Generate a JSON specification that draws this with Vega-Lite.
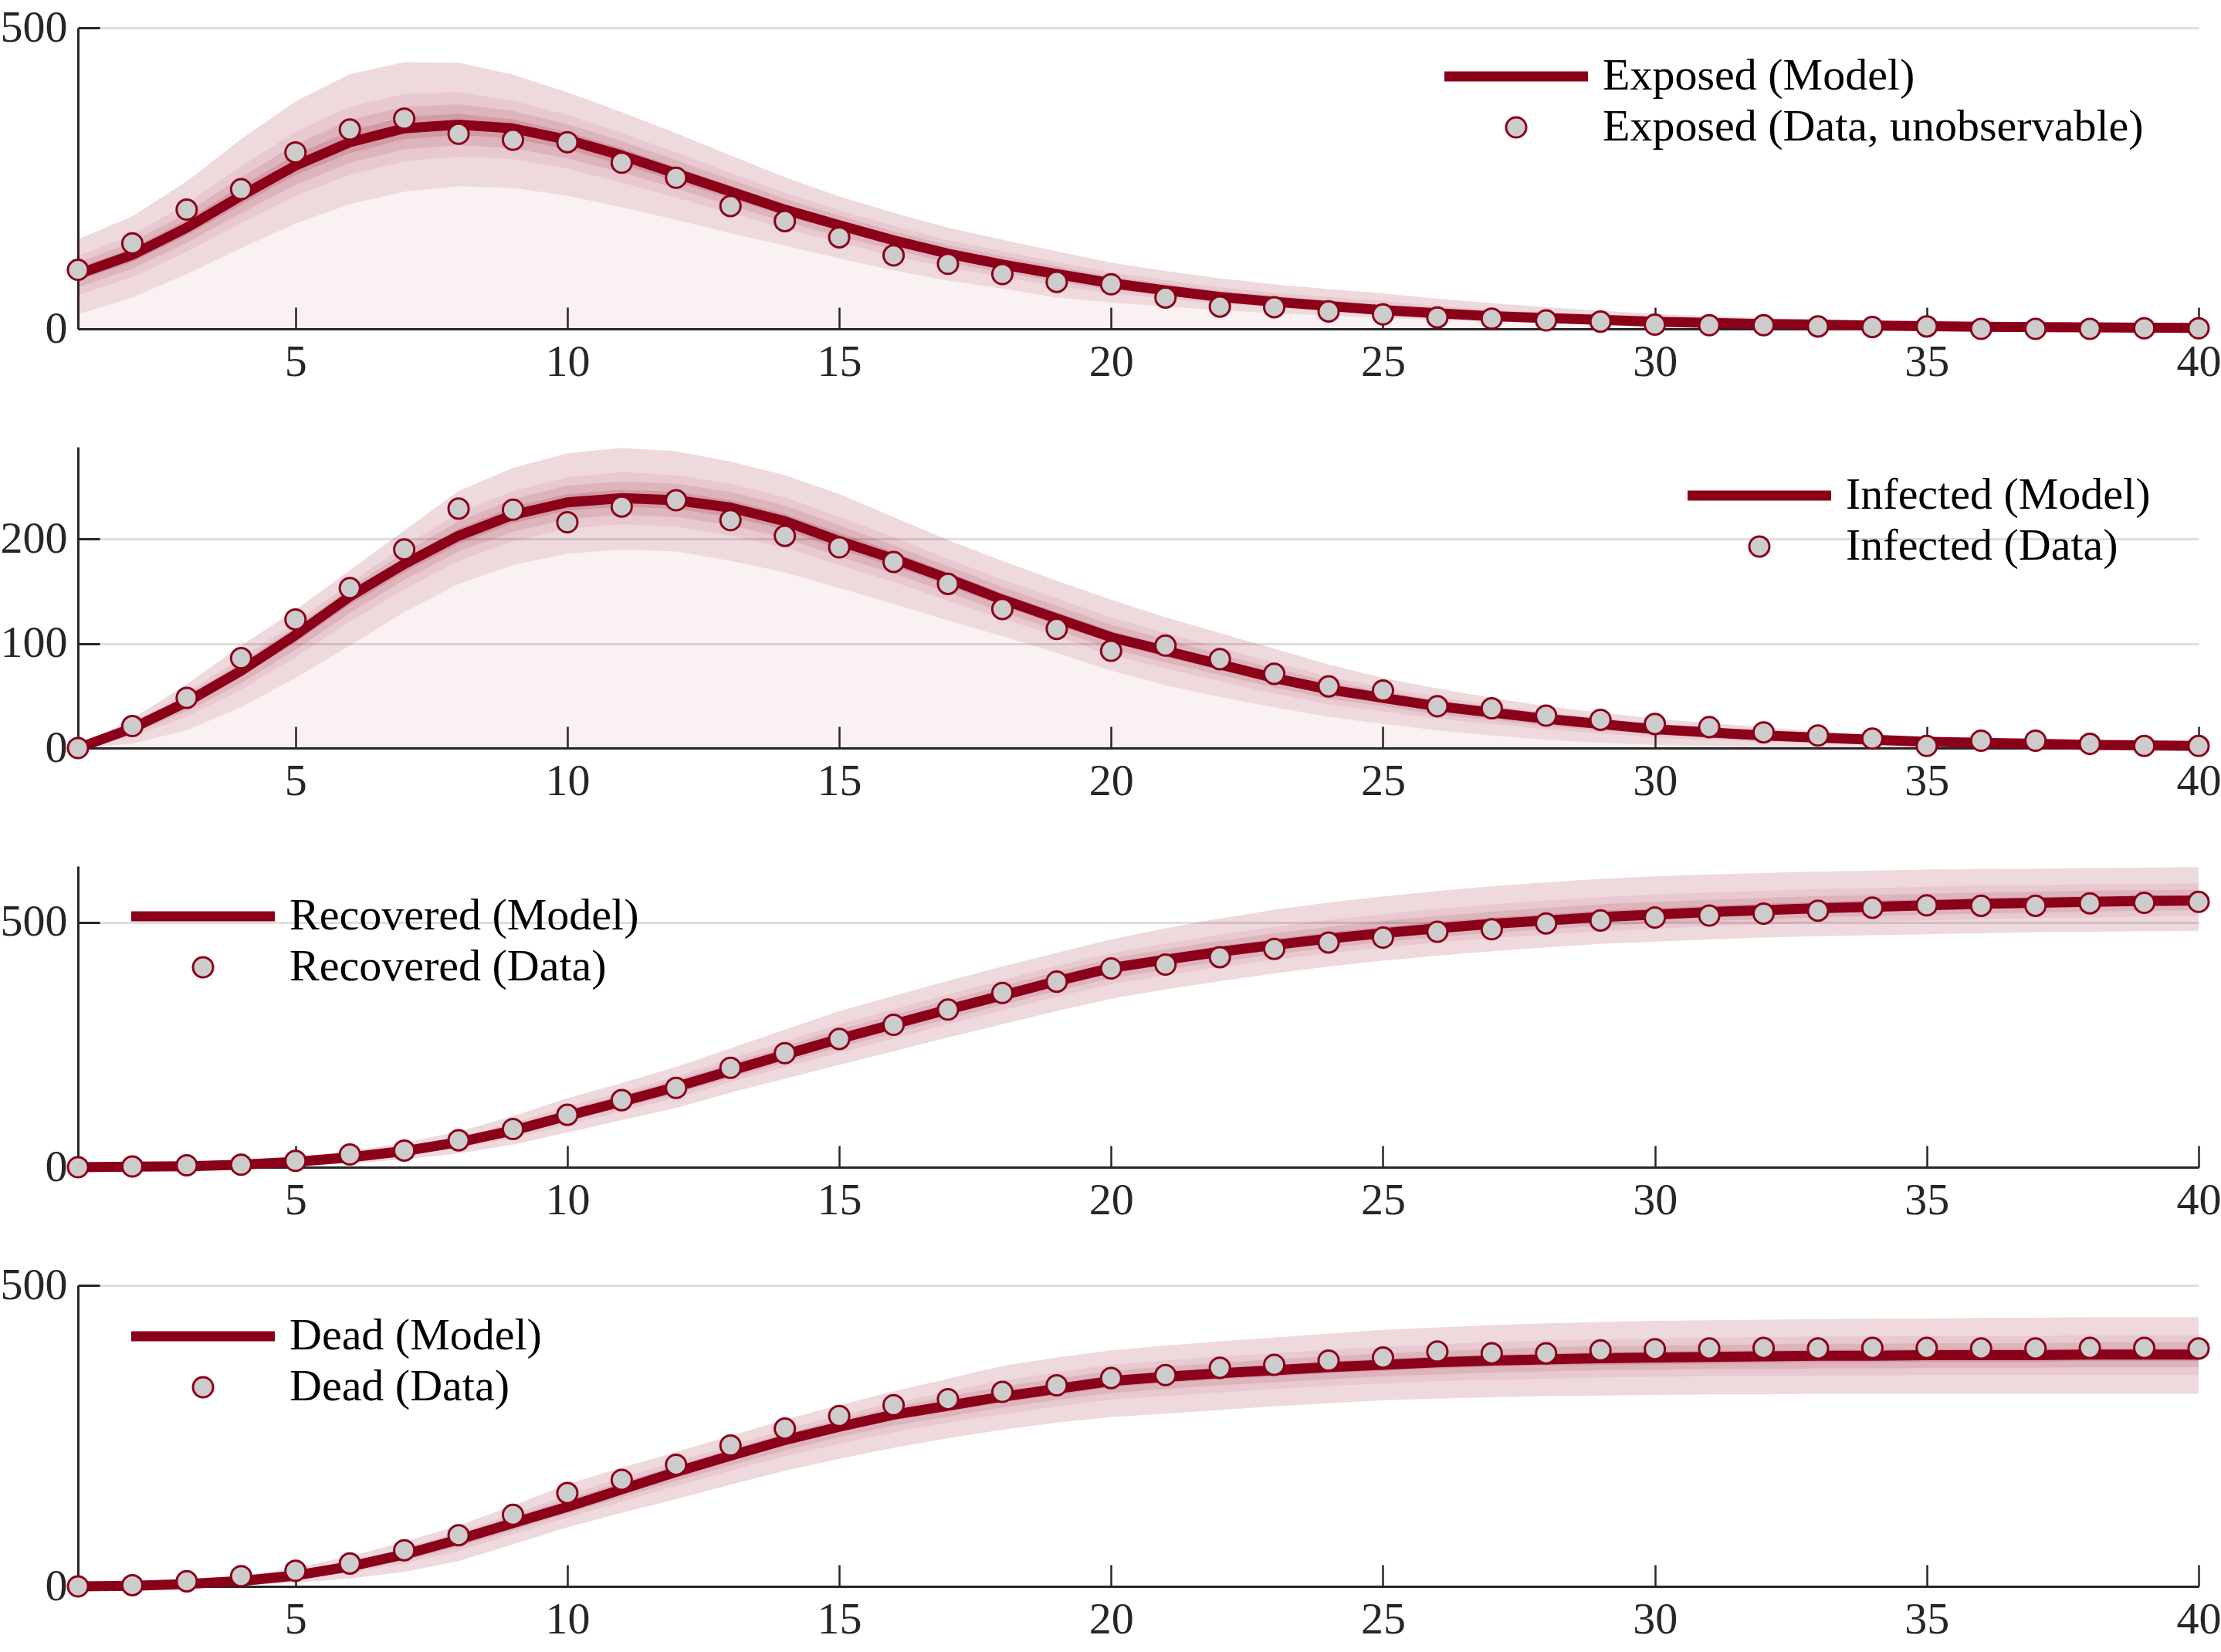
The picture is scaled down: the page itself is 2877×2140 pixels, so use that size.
{
  "$schema": "https://vega.github.io/schema/vega-lite/v6.json",
  "description": "SEIRD model fit: exposed, infected, recovered and dead, model with quantile bands and data",
  "background": "white",
  "padding": {"left": 0, "top": 7, "right": 0, "bottom": 5},
  "bounds": "flush",
  "spacing": 153,
  "data": {
    "values": [
      {"p":"E","t":1,"m":91,"d":98,"l1":24,"h1":149,"l2":56,"h2":121,"l3":69,"h3":110,"l4":80,"h4":101},
      {"p":"E","t":2,"m":123,"d":142,"l1":52,"h1":187,"l2":86,"h2":156,"l3":100,"h3":144,"l4":111,"h4":134},
      {"p":"E","t":3,"m":168,"d":198,"l1":91,"h1":245,"l2":128,"h2":208,"l3":143,"h3":193,"l4":155,"h4":181},
      {"p":"E","t":4,"m":221,"d":232,"l1":134,"h1":315,"l2":176,"h2":270,"l3":192,"h3":252,"l4":206,"h4":237},
      {"p":"E","t":5,"m":271,"d":293,"l1":175,"h1":378,"l2":221,"h2":327,"l3":239,"h3":306,"l4":255,"h4":289},
      {"p":"E","t":6,"m":310,"d":331,"l1":207,"h1":423,"l2":256,"h2":369,"l3":276,"h3":347,"l4":292,"h4":329},
      {"p":"E","t":7,"m":333,"d":349,"l1":228,"h1":443,"l2":278,"h2":390,"l3":298,"h3":369,"l4":315,"h4":352},
      {"p":"E","t":8,"m":339,"d":324,"l1":237,"h1":442,"l2":286,"h2":393,"l3":305,"h3":373,"l4":322,"h4":357},
      {"p":"E","t":9,"m":333,"d":314,"l1":234,"h1":422,"l2":282,"h2":379,"l3":300,"h3":362,"l4":316,"h4":348},
      {"p":"E","t":10,"m":314,"d":310,"l1":221,"h1":393,"l2":266,"h2":355,"l3":283,"h3":340,"l4":298,"h4":327},
      {"p":"E","t":11,"m":288,"d":276,"l1":202,"h1":360,"l2":243,"h2":325,"l3":260,"h3":312,"l4":273,"h4":300},
      {"p":"E","t":12,"m":258,"d":251,"l1":181,"h1":325,"l2":218,"h2":293,"l3":233,"h3":280,"l4":245,"h4":269},
      {"p":"E","t":13,"m":228,"d":204,"l1":159,"h1":288,"l2":192,"h2":259,"l3":205,"h3":248,"l4":216,"h4":238},
      {"p":"E","t":14,"m":198,"d":179,"l1":138,"h1":252,"l2":167,"h2":226,"l3":178,"h3":216,"l4":188,"h4":207},
      {"p":"E","t":15,"m":172,"d":152,"l1":117,"h1":220,"l2":143,"h2":197,"l3":154,"h3":188,"l4":163,"h4":180},
      {"p":"E","t":16,"m":147,"d":122,"l1":97,"h1":193,"l2":121,"h2":171,"l3":131,"h3":162,"l4":139,"h4":155},
      {"p":"E","t":17,"m":125,"d":108,"l1":80,"h1":168,"l2":102,"h2":147,"l3":110,"h3":139,"l4":117,"h4":132},
      {"p":"E","t":18,"m":107,"d":91,"l1":67,"h1":148,"l2":86,"h2":129,"l3":94,"h3":121,"l4":100,"h4":114},
      {"p":"E","t":19,"m":91,"d":78,"l1":52,"h1":129,"l2":71,"h2":111,"l3":78,"h3":104,"l4":84,"h4":97},
      {"p":"E","t":20,"m":76,"d":74,"l1":44,"h1":110,"l2":59,"h2":94,"l3":65,"h3":87,"l4":71,"h4":82},
      {"p":"E","t":21,"m":64,"d":52,"l1":37,"h1":96,"l2":50,"h2":81,"l3":55,"h3":75,"l4":59,"h4":69},
      {"p":"E","t":22,"m":53,"d":37,"l1":31,"h1":84,"l2":42,"h2":69,"l3":46,"h3":63,"l4":49,"h4":58},
      {"p":"E","t":23,"m":45,"d":36,"l1":26,"h1":74,"l2":35,"h2":60,"l3":39,"h3":55,"l4":42,"h4":50},
      {"p":"E","t":24,"m":38,"d":29,"l1":22,"h1":66,"l2":30,"h2":53,"l3":33,"h3":47,"l4":35,"h4":43},
      {"p":"E","t":25,"m":31,"d":24,"l1":18,"h1":59,"l2":24,"h2":46,"l3":27,"h3":40,"l4":29,"h4":36},
      {"p":"E","t":26,"m":26,"d":19,"l1":15,"h1":50,"l2":20,"h2":38,"l3":22,"h3":34,"l4":24,"h4":30},
      {"p":"E","t":27,"m":21,"d":17,"l1":12,"h1":43,"l2":16,"h2":32,"l3":18,"h3":28,"l4":19,"h4":25},
      {"p":"E","t":28,"m":18,"d":14,"l1":10,"h1":36,"l2":14,"h2":27,"l3":15,"h3":24,"l4":17,"h4":21},
      {"p":"E","t":29,"m":15,"d":12,"l1":8,"h1":30,"l2":11,"h2":23,"l3":13,"h3":20,"l4":14,"h4":18},
      {"p":"E","t":30,"m":12,"d":7,"l1":6,"h1":25,"l2":9,"h2":19,"l3":10,"h3":16,"l4":11,"h4":14},
      {"p":"E","t":31,"m":10,"d":6,"l1":5,"h1":21,"l2":7,"h2":16,"l3":8,"h3":14,"l4":9,"h4":12},
      {"p":"E","t":32,"m":8,"d":6,"l1":4,"h1":18,"l2":6,"h2":13,"l3":7,"h3":11,"l4":7,"h4":10},
      {"p":"E","t":33,"m":7,"d":4,"l1":3,"h1":16,"l2":5,"h2":12,"l3":6,"h3":10,"l4":6,"h4":8},
      {"p":"E","t":34,"m":5.5,"d":3,"l1":2,"h1":14,"l2":4,"h2":10,"l3":4,"h3":8,"l4":5,"h4":7},
      {"p":"E","t":35,"m":4.5,"d":4,"l1":2,"h1":12,"l2":3,"h2":8,"l3":4,"h3":7,"l4":4,"h4":6},
      {"p":"E","t":36,"m":3.5,"d":0,"l1":1,"h1":10,"l2":2,"h2":7,"l3":3,"h3":6,"l4":3,"h4":5},
      {"p":"E","t":37,"m":3,"d":0,"l1":1,"h1":8,"l2":2,"h2":6,"l3":2,"h3":5,"l4":3,"h4":4},
      {"p":"E","t":38,"m":2.5,"d":0,"l1":1,"h1":7,"l2":2,"h2":5,"l3":2,"h3":4,"l4":2,"h4":3},
      {"p":"E","t":39,"m":2,"d":1,"l1":0,"h1":6,"l2":1,"h2":4,"l3":1,"h3":3,"l4":2,"h4":3},
      {"p":"E","t":40,"m":1.5,"d":1,"l1":0,"h1":5,"l2":1,"h2":3,"l3":1,"h3":3,"l4":1,"h4":2},

      {"p":"I","t":1,"m":0,"d":0,"l1":0,"h1":0,"l2":0,"h2":0,"l3":0,"h3":0,"l4":0,"h4":0},
      {"p":"I","t":2,"m":19,"d":21,"l1":4,"h1":28,"l2":11,"h2":24,"l3":14,"h3":22,"l4":16,"h4":21},
      {"p":"I","t":3,"m":44,"d":48,"l1":17,"h1":61,"l2":30,"h2":53,"l3":35,"h3":50,"l4":39,"h4":47},
      {"p":"I","t":4,"m":74,"d":86,"l1":39,"h1":98,"l2":56,"h2":86,"l3":62,"h3":82,"l4":68,"h4":78},
      {"p":"I","t":5,"m":108,"d":123,"l1":67,"h1":132,"l2":87,"h2":120,"l3":94,"h3":116,"l4":101,"h4":112},
      {"p":"I","t":6,"m":145,"d":153,"l1":98,"h1":170,"l2":121,"h2":158,"l3":129,"h3":153,"l4":137,"h4":149},
      {"p":"I","t":7,"m":176,"d":190,"l1":130,"h1":208,"l2":152,"h2":193,"l3":161,"h3":187,"l4":168,"h4":181},
      {"p":"I","t":8,"m":203,"d":229,"l1":157,"h1":246,"l2":179,"h2":225,"l3":188,"h3":217,"l4":195,"h4":210},
      {"p":"I","t":9,"m":223,"d":228,"l1":175,"h1":268,"l2":198,"h2":246,"l3":207,"h3":238,"l4":215,"h4":231},
      {"p":"I","t":10,"m":235,"d":216,"l1":186,"h1":282,"l2":210,"h2":259,"l3":219,"h3":251,"l4":227,"h4":243},
      {"p":"I","t":11,"m":239,"d":231,"l1":190,"h1":287,"l2":214,"h2":264,"l3":223,"h3":255,"l4":231,"h4":247},
      {"p":"I","t":12,"m":237,"d":237,"l1":188,"h1":284,"l2":212,"h2":261,"l3":221,"h3":253,"l4":229,"h4":245},
      {"p":"I","t":13,"m":230,"d":218,"l1":179,"h1":274,"l2":203,"h2":253,"l3":213,"h3":245,"l4":221,"h4":237},
      {"p":"I","t":14,"m":217,"d":203,"l1":168,"h1":261,"l2":192,"h2":240,"l3":201,"h3":232,"l4":209,"h4":224},
      {"p":"I","t":15,"m":198,"d":192,"l1":153,"h1":243,"l2":175,"h2":221,"l3":183,"h3":213,"l4":190,"h4":206},
      {"p":"I","t":16,"m":181,"d":178,"l1":138,"h1":221,"l2":159,"h2":202,"l3":167,"h3":194,"l4":174,"h4":188},
      {"p":"I","t":17,"m":162,"d":157,"l1":122,"h1":199,"l2":141,"h2":181,"l3":149,"h3":174,"l4":155,"h4":168},
      {"p":"I","t":18,"m":142,"d":133,"l1":107,"h1":179,"l2":124,"h2":161,"l3":130,"h3":154,"l4":136,"h4":148},
      {"p":"I","t":19,"m":124,"d":114,"l1":91,"h1":160,"l2":107,"h2":143,"l3":113,"h3":136,"l4":118,"h4":130},
      {"p":"I","t":20,"m":106,"d":93,"l1":74,"h1":142,"l2":89,"h2":125,"l3":95,"h3":118,"l4":101,"h4":112},
      {"p":"I","t":21,"m":93,"d":98,"l1":60,"h1":125,"l2":76,"h2":110,"l3":82,"h3":104,"l4":87,"h4":98},
      {"p":"I","t":22,"m":80,"d":85,"l1":49,"h1":110,"l2":64,"h2":96,"l3":70,"h3":90,"l4":75,"h4":85},
      {"p":"I","t":23,"m":67,"d":71,"l1":39,"h1":95,"l2":52,"h2":82,"l3":58,"h3":76,"l4":62,"h4":72},
      {"p":"I","t":24,"m":56,"d":59,"l1":30,"h1":80,"l2":42,"h2":68,"l3":47,"h3":64,"l4":52,"h4":60},
      {"p":"I","t":25,"m":48,"d":55,"l1":23,"h1":67,"l2":35,"h2":58,"l3":40,"h3":54,"l4":44,"h4":51},
      {"p":"I","t":26,"m":40,"d":40,"l1":17,"h1":57,"l2":28,"h2":49,"l3":32,"h3":46,"l4":36,"h4":43},
      {"p":"I","t":27,"m":34,"d":38,"l1":12,"h1":48,"l2":23,"h2":41,"l3":27,"h3":39,"l4":30,"h4":36},
      {"p":"I","t":28,"m":28,"d":31,"l1":8,"h1":40,"l2":18,"h2":34,"l3":21,"h3":32,"l4":25,"h4":30},
      {"p":"I","t":29,"m":23,"d":27,"l1":5,"h1":34,"l2":14,"h2":29,"l3":17,"h3":27,"l4":20,"h4":25},
      {"p":"I","t":30,"m":18,"d":23,"l1":3,"h1":28,"l2":10,"h2":23,"l3":13,"h3":21,"l4":15,"h4":20},
      {"p":"I","t":31,"m":15,"d":20,"l1":2,"h1":24,"l2":8,"h2":20,"l3":11,"h3":18,"l4":13,"h4":17},
      {"p":"I","t":32,"m":12,"d":15,"l1":1,"h1":20,"l2":6,"h2":16,"l3":8,"h3":15,"l4":10,"h4":13},
      {"p":"I","t":33,"m":10,"d":12,"l1":1,"h1":16,"l2":5,"h2":13,"l3":7,"h3":12,"l4":8,"h4":11},
      {"p":"I","t":34,"m":8,"d":9,"l1":1,"h1":13,"l2":4,"h2":11,"l3":6,"h3":10,"l4":7,"h4":9},
      {"p":"I","t":35,"m":6,"d":2,"l1":0,"h1":11,"l2":3,"h2":9,"l3":4,"h3":8,"l4":5,"h4":7},
      {"p":"I","t":36,"m":5,"d":7,"l1":0,"h1":10,"l2":2,"h2":8,"l3":3,"h3":7,"l4":4,"h4":6},
      {"p":"I","t":37,"m":4,"d":7,"l1":0,"h1":9,"l2":2,"h2":7,"l3":3,"h3":6,"l4":3,"h4":5},
      {"p":"I","t":38,"m":3,"d":4,"l1":0,"h1":8,"l2":2,"h2":6,"l3":2,"h3":5,"l4":3,"h4":4},
      {"p":"I","t":39,"m":2.5,"d":2,"l1":0,"h1":7,"l2":1,"h2":5,"l3":2,"h3":4,"l4":2,"h4":3},
      {"p":"I","t":40,"m":2,"d":2,"l1":0,"h1":6,"l2":1,"h2":4,"l3":1,"h3":3,"l4":2,"h4":3},

      {"p":"R","t":1,"m":0,"d":0,"l1":0,"h1":0,"l2":0,"h2":0,"l3":0,"h3":0,"l4":0,"h4":0},
      {"p":"R","t":2,"m":1,"d":1.5,"l1":0,"h1":3,"l2":0.5,"h2":2,"l3":0.7,"h3":1.7,"l4":0.8,"h4":1.3},
      {"p":"R","t":3,"m":2,"d":4,"l1":0,"h1":6,"l2":1,"h2":4,"l3":1.3,"h3":3.3,"l4":1.7,"h4":2.7},
      {"p":"R","t":4,"m":5,"d":5,"l1":0,"h1":11,"l2":2.4,"h2":8,"l3":3.3,"h3":7,"l4":4.2,"h4":6},
      {"p":"R","t":5,"m":11,"d":13,"l1":3,"h1":20,"l2":7,"h2":16,"l3":8,"h3":14,"l4":10,"h4":13},
      {"p":"R","t":6,"m":20,"d":26,"l1":8,"h1":33,"l2":14,"h2":27,"l3":16,"h3":24,"l4":18,"h4":22},
      {"p":"R","t":7,"m":33,"d":34,"l1":16,"h1":50,"l2":24,"h2":42,"l3":27,"h3":39,"l4":30,"h4":36},
      {"p":"R","t":8,"m":51,"d":55,"l1":28,"h1":73,"l2":39,"h2":62,"l3":43,"h3":58,"l4":47,"h4":55},
      {"p":"R","t":9,"m":75,"d":78,"l1":46,"h1":104,"l2":60,"h2":90,"l3":65,"h3":85,"l4":70,"h4":80},
      {"p":"R","t":10,"m":105,"d":107,"l1":71,"h1":141,"l2":87,"h2":124,"l3":94,"h3":117,"l4":99,"h4":111},
      {"p":"R","t":11,"m":134,"d":137,"l1":96,"h1":172,"l2":114,"h2":154,"l3":121,"h3":147,"l4":128,"h4":140},
      {"p":"R","t":12,"m":164,"d":162,"l1":121,"h1":205,"l2":142,"h2":185,"l3":150,"h3":178,"l4":157,"h4":171},
      {"p":"R","t":13,"m":197,"d":203,"l1":152,"h1":243,"l2":174,"h2":221,"l3":182,"h3":212,"l4":189,"h4":205},
      {"p":"R","t":14,"m":230,"d":233,"l1":181,"h1":281,"l2":205,"h2":257,"l3":214,"h3":247,"l4":222,"h4":239},
      {"p":"R","t":15,"m":262,"d":262,"l1":209,"h1":319,"l2":234,"h2":292,"l3":245,"h3":281,"l4":253,"h4":272},
      {"p":"R","t":16,"m":292,"d":291,"l1":237,"h1":350,"l2":263,"h2":322,"l3":274,"h3":311,"l4":283,"h4":302},
      {"p":"R","t":17,"m":322,"d":322,"l1":265,"h1":381,"l2":292,"h2":353,"l3":303,"h3":341,"l4":312,"h4":332},
      {"p":"R","t":18,"m":351,"d":356,"l1":292,"h1":410,"l2":320,"h2":382,"l3":332,"h3":370,"l4":341,"h4":361},
      {"p":"R","t":19,"m":380,"d":379,"l1":319,"h1":438,"l2":348,"h2":411,"l3":360,"h3":399,"l4":370,"h4":390},
      {"p":"R","t":20,"m":407,"d":406,"l1":344,"h1":465,"l2":374,"h2":437,"l3":386,"h3":426,"l4":396,"h4":417},
      {"p":"R","t":21,"m":424,"d":414,"l1":363,"h1":488,"l2":392,"h2":457,"l3":404,"h3":445,"l4":414,"h4":435},
      {"p":"R","t":22,"m":440,"d":429,"l1":380,"h1":508,"l2":409,"h2":475,"l3":420,"h3":462,"l4":430,"h4":452},
      {"p":"R","t":23,"m":454,"d":446,"l1":396,"h1":526,"l2":424,"h2":491,"l3":435,"h3":478,"l4":444,"h4":466},
      {"p":"R","t":24,"m":467,"d":459,"l1":410,"h1":541,"l2":437,"h2":505,"l3":448,"h3":491,"l4":457,"h4":480},
      {"p":"R","t":25,"m":478,"d":469,"l1":422,"h1":553,"l2":449,"h2":517,"l3":460,"h3":503,"l4":468,"h4":491},
      {"p":"R","t":26,"m":488,"d":481,"l1":432,"h1":564,"l2":459,"h2":528,"l3":470,"h3":513,"l4":478,"h4":501},
      {"p":"R","t":27,"m":497,"d":486,"l1":441,"h1":574,"l2":468,"h2":537,"l3":479,"h3":522,"l4":487,"h4":510},
      {"p":"R","t":28,"m":504,"d":498,"l1":449,"h1":582,"l2":475,"h2":545,"l3":486,"h3":530,"l4":495,"h4":517},
      {"p":"R","t":29,"m":511,"d":504,"l1":456,"h1":589,"l2":482,"h2":552,"l3":493,"h3":537,"l4":502,"h4":524},
      {"p":"R","t":30,"m":516,"d":510,"l1":461,"h1":594,"l2":487,"h2":557,"l3":498,"h3":542,"l4":507,"h4":529},
      {"p":"R","t":31,"m":521,"d":514,"l1":465,"h1":598,"l2":492,"h2":561,"l3":503,"h3":546,"l4":511,"h4":534},
      {"p":"R","t":32,"m":525,"d":518,"l1":469,"h1":601,"l2":496,"h2":565,"l3":507,"h3":550,"l4":515,"h4":538},
      {"p":"R","t":33,"m":529,"d":524,"l1":472,"h1":604,"l2":499,"h2":568,"l3":510,"h3":554,"l4":519,"h4":542},
      {"p":"R","t":34,"m":532,"d":530,"l1":474,"h1":606,"l2":502,"h2":570,"l3":513,"h3":556,"l4":522,"h4":545},
      {"p":"R","t":35,"m":535,"d":535,"l1":476,"h1":608,"l2":504,"h2":573,"l3":516,"h3":559,"l4":525,"h4":547},
      {"p":"R","t":36,"m":538,"d":534,"l1":478,"h1":609,"l2":507,"h2":575,"l3":518,"h3":561,"l4":528,"h4":550},
      {"p":"R","t":37,"m":540,"d":534,"l1":480,"h1":610,"l2":509,"h2":576,"l3":520,"h3":563,"l4":530,"h4":552},
      {"p":"R","t":38,"m":542,"d":539,"l1":481,"h1":611,"l2":510,"h2":578,"l3":522,"h3":565,"l4":532,"h4":554},
      {"p":"R","t":39,"m":544,"d":540,"l1":482,"h1":612,"l2":512,"h2":579,"l3":524,"h3":566,"l4":533,"h4":555},
      {"p":"R","t":40,"m":545,"d":542,"l1":483,"h1":613,"l2":513,"h2":580,"l3":525,"h3":567,"l4":534,"h4":556},

      {"p":"D","t":1,"m":0,"d":0,"l1":0,"h1":0,"l2":0,"h2":0,"l3":0,"h3":0,"l4":0,"h4":0},
      {"p":"D","t":2,"m":1,"d":2,"l1":0,"h1":3,"l2":0.5,"h2":2,"l3":0.7,"h3":1.7,"l4":0.8,"h4":1.3},
      {"p":"D","t":3,"m":4,"d":8.5,"l1":0,"h1":8,"l2":2,"h2":6,"l3":2.7,"h3":5.3,"l4":3.3,"h4":4.7},
      {"p":"D","t":4,"m":9,"d":17,"l1":2,"h1":17,"l2":5,"h2":13,"l3":7,"h3":12,"l4":8,"h4":10},
      {"p":"D","t":5,"m":18,"d":26,"l1":6,"h1":31,"l2":12,"h2":25,"l3":14,"h3":22,"l4":16,"h4":20},
      {"p":"D","t":6,"m":33,"d":38,"l1":13,"h1":50,"l2":23,"h2":42,"l3":26,"h3":39,"l4":30,"h4":36},
      {"p":"D","t":7,"m":53,"d":60,"l1":24,"h1":74,"l2":38,"h2":64,"l3":43,"h3":60,"l4":48,"h4":57},
      {"p":"D","t":8,"m":78,"d":85,"l1":42,"h1":101,"l2":59,"h2":90,"l3":66,"h3":86,"l4":72,"h4":82},
      {"p":"D","t":9,"m":105,"d":119,"l1":70,"h1":134,"l2":87,"h2":120,"l3":93,"h3":115,"l4":99,"h4":110},
      {"p":"D","t":10,"m":132,"d":155,"l1":98,"h1":170,"l2":114,"h2":152,"l3":121,"h3":145,"l4":126,"h4":138},
      {"p":"D","t":11,"m":161,"d":177,"l1":122,"h1":197,"l2":141,"h2":180,"l3":148,"h3":173,"l4":154,"h4":167},
      {"p":"D","t":12,"m":190,"d":202,"l1":145,"h1":223,"l2":167,"h2":207,"l3":175,"h3":201,"l4":182,"h4":196},
      {"p":"D","t":13,"m":217,"d":234,"l1":169,"h1":250,"l2":192,"h2":234,"l3":201,"h3":228,"l4":209,"h4":223},
      {"p":"D","t":14,"m":243,"d":262,"l1":192,"h1":277,"l2":216,"h2":261,"l3":226,"h3":254,"l4":234,"h4":249},
      {"p":"D","t":15,"m":265,"d":283,"l1":212,"h1":301,"l2":237,"h2":284,"l3":248,"h3":277,"l4":256,"h4":271},
      {"p":"D","t":16,"m":285,"d":301,"l1":230,"h1":324,"l2":256,"h2":305,"l3":267,"h3":298,"l4":276,"h4":292},
      {"p":"D","t":17,"m":300,"d":311,"l1":246,"h1":345,"l2":272,"h2":323,"l3":282,"h3":315,"l4":291,"h4":308},
      {"p":"D","t":18,"m":315,"d":323,"l1":260,"h1":366,"l2":286,"h2":342,"l3":297,"h3":332,"l4":306,"h4":324},
      {"p":"D","t":19,"m":328,"d":334,"l1":272,"h1":380,"l2":299,"h2":355,"l3":310,"h3":345,"l4":318,"h4":337},
      {"p":"D","t":20,"m":341,"d":346,"l1":281,"h1":392,"l2":310,"h2":368,"l3":321,"h3":358,"l4":331,"h4":350},
      {"p":"D","t":21,"m":348,"d":351,"l1":287,"h1":400,"l2":316,"h2":375,"l3":328,"h3":365,"l4":338,"h4":357},
      {"p":"D","t":22,"m":354,"d":363,"l1":293,"h1":407,"l2":322,"h2":382,"l3":334,"h3":371,"l4":344,"h4":363},
      {"p":"D","t":23,"m":359,"d":368,"l1":299,"h1":413,"l2":328,"h2":387,"l3":339,"h3":377,"l4":349,"h4":368},
      {"p":"D","t":24,"m":364,"d":375,"l1":304,"h1":420,"l2":333,"h2":393,"l3":344,"h3":382,"l4":354,"h4":374},
      {"p":"D","t":25,"m":368,"d":380,"l1":309,"h1":426,"l2":337,"h2":398,"l3":349,"h3":387,"l4":358,"h4":378},
      {"p":"D","t":26,"m":372,"d":390,"l1":312,"h1":430,"l2":341,"h2":402,"l3":352,"h3":391,"l4":362,"h4":382},
      {"p":"D","t":27,"m":375,"d":387,"l1":314,"h1":434,"l2":343,"h2":406,"l3":355,"h3":394,"l4":365,"h4":385},
      {"p":"D","t":28,"m":377,"d":387,"l1":316,"h1":437,"l2":345,"h2":408,"l3":357,"h3":397,"l4":367,"h4":387},
      {"p":"D","t":29,"m":379,"d":392,"l1":317,"h1":439,"l2":347,"h2":410,"l3":359,"h3":399,"l4":368,"h4":389},
      {"p":"D","t":30,"m":380,"d":394,"l1":318,"h1":441,"l2":348,"h2":412,"l3":360,"h3":400,"l4":369,"h4":390},
      {"p":"D","t":31,"m":381,"d":395,"l1":319,"h1":442,"l2":349,"h2":413,"l3":361,"h3":401,"l4":370,"h4":391},
      {"p":"D","t":32,"m":382,"d":396,"l1":319,"h1":443,"l2":349,"h2":414,"l3":361,"h3":402,"l4":371,"h4":392},
      {"p":"D","t":33,"m":383,"d":395,"l1":320,"h1":444,"l2":350,"h2":415,"l3":362,"h3":403,"l4":372,"h4":393},
      {"p":"D","t":34,"m":383,"d":396,"l1":320,"h1":445,"l2":350,"h2":415,"l3":362,"h3":403,"l4":372,"h4":394},
      {"p":"D","t":35,"m":384,"d":396,"l1":320,"h1":445,"l2":351,"h2":416,"l3":363,"h3":404,"l4":373,"h4":394},
      {"p":"D","t":36,"m":384,"d":395,"l1":320,"h1":446,"l2":351,"h2":416,"l3":363,"h3":404,"l4":373,"h4":395},
      {"p":"D","t":37,"m":384,"d":395,"l1":320,"h1":446,"l2":351,"h2":416,"l3":363,"h3":404,"l4":373,"h4":395},
      {"p":"D","t":38,"m":385,"d":396,"l1":320,"h1":447,"l2":351,"h2":417,"l3":364,"h3":405,"l4":374,"h4":395},
      {"p":"D","t":39,"m":385,"d":396,"l1":320,"h1":447,"l2":351,"h2":417,"l3":364,"h3":405,"l4":374,"h4":395},
      {"p":"D","t":40,"m":385,"d":395,"l1":320,"h1":447,"l2":351,"h2":417,"l3":364,"h3":405,"l4":374,"h4":395}
    ]
  },
  "resolve": {
    "scale": {"x": "independent", "y": "independent", "stroke": "independent"},
    "legend": {"stroke": "independent"}
  },
  "vconcat": [
    {
      "width": 2747,
      "height": 390,
      "transform": [{"filter": "datum.p == 'E'"}],
      "encoding": {
        "x": {"field": "t", "type": "quantitative", "title": null, "scale": {"domain": [1, 40], "nice": false}, "axis": {"values": [5, 10, 15, 20, 25, 30, 35, 40]}}
      },
      "layer": [
        {"mark": {"type": "area", "color": "#8b0019", "opacity": 0.055}, "encoding": {"y": {"field": "l1", "type": "quantitative", "title": null, "scale": {"domain": [0, 500], "nice": false}, "axis": {"values": [0, 500]}}, "y2": {"datum": 0}}},
        {"mark": {"type": "area", "color": "#8b0019", "opacity": 0.15}, "encoding": {"y": {"field": "l1", "type": "quantitative", "title": null}, "y2": {"field": "h1"}}},
        {"mark": {"type": "area", "color": "#8b0019", "opacity": 0.07}, "encoding": {"y": {"field": "l2", "type": "quantitative", "title": null}, "y2": {"field": "h2"}}},
        {"mark": {"type": "area", "color": "#8b0019", "opacity": 0.1}, "encoding": {"y": {"field": "l3", "type": "quantitative", "title": null}, "y2": {"field": "h3"}}},
        {"mark": {"type": "area", "color": "#8b0019", "opacity": 0.14}, "encoding": {"y": {"field": "l4", "type": "quantitative", "title": null}, "y2": {"field": "h4"}}},
        {
          "mark": {"type": "line", "strokeWidth": 13, "strokeJoin": "round"},
          "encoding": {
            "y": {"field": "m", "type": "quantitative", "title": null},
            "stroke": {
              "datum": "Exposed (Model)", "type": "nominal",
              "scale": {"domain": ["Exposed (Model)", "Exposed (Data, unobservable)"], "range": ["#8b0019", "#8b0019"]},
              "legend": {
                "orient": "none", "legendX": 1834, "legendY": 34, "title": null,
                "encode": {"symbols": {"update": {
                  "shape": {"signal": "indexof(datum.value, 'Model') >= 0 ? 'M-3.66,-0.2H3.66V0.2H-3.66Z' : 'M-0.52,0A0.52,0.52 0 1,0 0.52,0A0.52,0.52 0 1,0 -0.52,0Z'"},
                  "fill": {"signal": "indexof(datum.value, 'Model') >= 0 ? '#8b0019' : '#cccccc'"},
                  "size": {"value": 2500},
                  "strokeWidth": {"value": 3},
                  "stroke": {"value": "#8b0019"},
                  "opacity": {"value": 1}
                }}}
              }
            }
          }
        },
        {
          "mark": {"type": "point", "filled": true, "fill": "#cccccc", "size": 680, "strokeWidth": 3, "opacity": 1},
          "encoding": {
            "y": {"field": "d", "type": "quantitative", "title": null},
            "stroke": {"datum": "Exposed (Data, unobservable)", "type": "nominal"}
          }
        }
      ]
    },
    {
      "width": 2747,
      "height": 390,
      "transform": [{"filter": "datum.p == 'I'"}],
      "encoding": {
        "x": {"field": "t", "type": "quantitative", "title": null, "scale": {"domain": [1, 40], "nice": false}, "axis": {"values": [5, 10, 15, 20, 25, 30, 35, 40]}}
      },
      "layer": [
        {"mark": {"type": "area", "color": "#8b0019", "opacity": 0.055}, "encoding": {"y": {"field": "l1", "type": "quantitative", "title": null, "scale": {"domain": [0, 288], "nice": false}, "axis": {"values": [0, 100, 200]}}, "y2": {"datum": 0}}},
        {"mark": {"type": "area", "color": "#8b0019", "opacity": 0.15}, "encoding": {"y": {"field": "l1", "type": "quantitative", "title": null}, "y2": {"field": "h1"}}},
        {"mark": {"type": "area", "color": "#8b0019", "opacity": 0.07}, "encoding": {"y": {"field": "l2", "type": "quantitative", "title": null}, "y2": {"field": "h2"}}},
        {"mark": {"type": "area", "color": "#8b0019", "opacity": 0.1}, "encoding": {"y": {"field": "l3", "type": "quantitative", "title": null}, "y2": {"field": "h3"}}},
        {"mark": {"type": "area", "color": "#8b0019", "opacity": 0.14}, "encoding": {"y": {"field": "l4", "type": "quantitative", "title": null}, "y2": {"field": "h4"}}},
        {
          "mark": {"type": "line", "strokeWidth": 13, "strokeJoin": "round"},
          "encoding": {
            "y": {"field": "m", "type": "quantitative", "title": null},
            "stroke": {
              "datum": "Infected (Model)", "type": "nominal",
              "scale": {"domain": ["Infected (Model)", "Infected (Data)"], "range": ["#8b0019", "#8b0019"]},
              "legend": {
                "orient": "none", "legendX": 2149, "legendY": 34, "title": null,
                "encode": {"symbols": {"update": {
                  "shape": {"signal": "indexof(datum.value, 'Model') >= 0 ? 'M-3.66,-0.2H3.66V0.2H-3.66Z' : 'M-0.52,0A0.52,0.52 0 1,0 0.52,0A0.52,0.52 0 1,0 -0.52,0Z'"},
                  "fill": {"signal": "indexof(datum.value, 'Model') >= 0 ? '#8b0019' : '#cccccc'"},
                  "size": {"value": 2500},
                  "strokeWidth": {"value": 3},
                  "stroke": {"value": "#8b0019"},
                  "opacity": {"value": 1}
                }}}
              }
            }
          }
        },
        {
          "mark": {"type": "point", "filled": true, "fill": "#cccccc", "size": 680, "strokeWidth": 3, "opacity": 1},
          "encoding": {
            "y": {"field": "d", "type": "quantitative", "title": null},
            "stroke": {"datum": "Infected (Data)", "type": "nominal"}
          }
        }
      ]
    },
    {
      "width": 2747,
      "height": 390,
      "transform": [{"filter": "datum.p == 'R'"}],
      "encoding": {
        "x": {"field": "t", "type": "quantitative", "title": null, "scale": {"domain": [1, 40], "nice": false}, "axis": {"values": [5, 10, 15, 20, 25, 30, 35, 40]}}
      },
      "layer": [
        {"mark": {"type": "area", "color": "#8b0019", "opacity": 0.15}, "encoding": {"y": {"field": "l1", "type": "quantitative", "title": null, "scale": {"domain": [0, 615], "nice": false}, "axis": {"values": [0, 500]}}, "y2": {"field": "h1"}}},
        {"mark": {"type": "area", "color": "#8b0019", "opacity": 0.07}, "encoding": {"y": {"field": "l2", "type": "quantitative", "title": null}, "y2": {"field": "h2"}}},
        {"mark": {"type": "area", "color": "#8b0019", "opacity": 0.1}, "encoding": {"y": {"field": "l3", "type": "quantitative", "title": null}, "y2": {"field": "h3"}}},
        {"mark": {"type": "area", "color": "#8b0019", "opacity": 0.14}, "encoding": {"y": {"field": "l4", "type": "quantitative", "title": null}, "y2": {"field": "h4"}}},
        {
          "mark": {"type": "line", "strokeWidth": 13, "strokeJoin": "round"},
          "encoding": {
            "y": {"field": "m", "type": "quantitative", "title": null},
            "stroke": {
              "datum": "Recovered (Model)", "type": "nominal",
              "scale": {"domain": ["Recovered (Model)", "Recovered (Data)"], "range": ["#8b0019", "#8b0019"]},
              "legend": {
                "orient": "none", "legendX": 133, "legendY": 36, "title": null,
                "encode": {"symbols": {"update": {
                  "shape": {"signal": "indexof(datum.value, 'Model') >= 0 ? 'M-3.66,-0.2H3.66V0.2H-3.66Z' : 'M-0.52,0A0.52,0.52 0 1,0 0.52,0A0.52,0.52 0 1,0 -0.52,0Z'"},
                  "fill": {"signal": "indexof(datum.value, 'Model') >= 0 ? '#8b0019' : '#cccccc'"},
                  "size": {"value": 2500},
                  "strokeWidth": {"value": 3},
                  "stroke": {"value": "#8b0019"},
                  "opacity": {"value": 1}
                }}}
              }
            }
          }
        },
        {
          "mark": {"type": "point", "filled": true, "fill": "#cccccc", "size": 680, "strokeWidth": 3, "opacity": 1},
          "encoding": {
            "y": {"field": "d", "type": "quantitative", "title": null},
            "stroke": {"datum": "Recovered (Data)", "type": "nominal"}
          }
        }
      ]
    },
    {
      "width": 2747,
      "height": 390,
      "transform": [{"filter": "datum.p == 'D'"}],
      "encoding": {
        "x": {"field": "t", "type": "quantitative", "title": null, "scale": {"domain": [1, 40], "nice": false}, "axis": {"values": [5, 10, 15, 20, 25, 30, 35, 40]}}
      },
      "layer": [
        {"mark": {"type": "area", "color": "#8b0019", "opacity": 0.15}, "encoding": {"y": {"field": "l1", "type": "quantitative", "title": null, "scale": {"domain": [0, 500], "nice": false}, "axis": {"values": [0, 500]}}, "y2": {"field": "h1"}}},
        {"mark": {"type": "area", "color": "#8b0019", "opacity": 0.07}, "encoding": {"y": {"field": "l2", "type": "quantitative", "title": null}, "y2": {"field": "h2"}}},
        {"mark": {"type": "area", "color": "#8b0019", "opacity": 0.1}, "encoding": {"y": {"field": "l3", "type": "quantitative", "title": null}, "y2": {"field": "h3"}}},
        {"mark": {"type": "area", "color": "#8b0019", "opacity": 0.14}, "encoding": {"y": {"field": "l4", "type": "quantitative", "title": null}, "y2": {"field": "h4"}}},
        {
          "mark": {"type": "line", "strokeWidth": 13, "strokeJoin": "round"},
          "encoding": {
            "y": {"field": "m", "type": "quantitative", "title": null},
            "stroke": {
              "datum": "Dead (Model)", "type": "nominal",
              "scale": {"domain": ["Dead (Model)", "Dead (Data)"], "range": ["#8b0019", "#8b0019"]},
              "legend": {
                "orient": "none", "legendX": 133, "legendY": 37, "title": null,
                "encode": {"symbols": {"update": {
                  "shape": {"signal": "indexof(datum.value, 'Model') >= 0 ? 'M-3.66,-0.2H3.66V0.2H-3.66Z' : 'M-0.52,0A0.52,0.52 0 1,0 0.52,0A0.52,0.52 0 1,0 -0.52,0Z'"},
                  "fill": {"signal": "indexof(datum.value, 'Model') >= 0 ? '#8b0019' : '#cccccc'"},
                  "size": {"value": 2500},
                  "strokeWidth": {"value": 3},
                  "stroke": {"value": "#8b0019"},
                  "opacity": {"value": 1}
                }}}
              }
            }
          }
        },
        {
          "mark": {"type": "point", "filled": true, "fill": "#cccccc", "size": 680, "strokeWidth": 3, "opacity": 1},
          "encoding": {
            "y": {"field": "d", "type": "quantitative", "title": null},
            "stroke": {"datum": "Dead (Data)", "type": "nominal"}
          }
        }
      ]
    }
  ],
  "config": {
    "view": {"stroke": null},
    "concat": {"spacing": 153},
    "axis": {
      "grid": false,
      "domainColor": "#262626",
      "domainWidth": 3,
      "tickColor": "#262626",
      "tickWidth": 2.5,
      "tickSize": -28,
      "labelFont": "Liberation Serif",
      "labelFontSize": 58,
      "labelColor": "#262626",
      "labelPadding": 42,
      "labelFlush": false,
      "zindex": 1
    },
    "axisY": {
      "grid": true,
      "gridColor": "#000000",
      "gridOpacity": 0.13,
      "gridWidth": 3,
      "tickWidth": 3
    },
    "legend": {
      "labelFont": "Liberation Serif",
      "labelFontSize": 58,
      "labelColor": "#000000",
      "labelLimit": 3000,
      "padding": 0,
      "rowPadding": 8,
      "labelOffset": 83,
      "symbolSize": 2500,
      "symbolStrokeWidth": 3
    }
  }
}
